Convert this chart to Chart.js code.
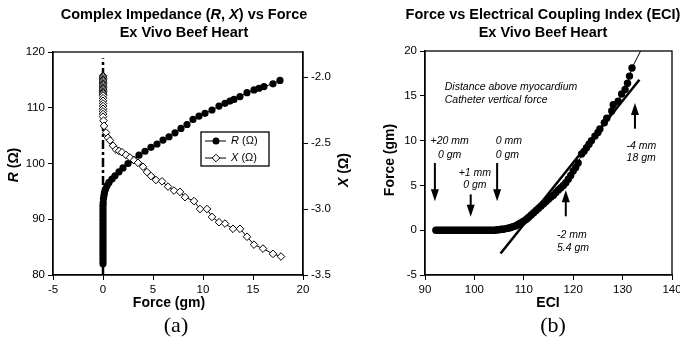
<!DOCTYPE html>
<html>
<head>
<meta charset="utf-8">
<script src="https://cdn.jsdelivr.net/npm/chart.js@4.4.0/dist/chart.umd.min.js"></script>
<style>
  html, body { margin: 0; padding: 0; background: #fff; }
  #wrap { position: relative; width: 680px; height: 341px; overflow: hidden; }
  #c1 { position: absolute; left: 0; top: 0; }
  #c2 { position: absolute; left: 355px; top: 0; }
</style>
</head>
<body>
<div id="wrap">
  <canvas id="c1" width="360" height="341" style="width:360px;height:341px"></canvas>
  <canvas id="c2" width="325" height="341" style="width:325px;height:341px"></canvas>
</div>
<script>
// ---- panel (a): impedance vs force ----
var rForce = [0, 0, 0, 0, 0, 0, 0, 0, 0, 0, 0, 0, 0, 0, 0, 0, 0, 0, 0, 0, 0, 0,
  0.02, 0.05, 0.1, 0.15, 0.25, 0.4, 0.6, 0.9, 1.2, 1.6, 2.0, 2.5, 3.0, 3.6, 4.2, 4.8, 5.4, 6.0, 6.6,
  7.2, 7.8, 8.4, 9.0, 9.6, 10.2, 10.9, 11.6, 12.2, 12.7, 13.1, 13.7, 14.4, 15.1, 15.6, 16.1, 17.0, 17.7]
var rOhm = [82, 82.5, 83, 83.5, 84, 84.5, 85, 85.5, 86, 86.5, 87, 87.5, 88, 88.5, 89, 89.5, 90, 90.5, 91, 91.5, 92, 92.5,
  93, 93.7, 94.3, 94.8, 95.4, 96, 96.6, 97.2, 97.8, 98.5, 99.2, 100, 100.7, 101.5, 102.2, 102.9, 103.5, 104.2, 104.8,
  105.5, 106.3, 107, 107.9, 108.5, 109, 109.6, 110.3, 110.8, 111.2, 111.5, 112, 112.7, 113.2, 113.5, 113.8, 114.3, 114.9]

var xForce = [0, 0, 0, 0, 0, 0, 0, 0, 0, 0, 0, 0, 0, 0, 0, 0, 0, 0, 0, 0, 0, 0, 0, 0,
  0.05, 0.1, 0.3, 0.5, 0.7, 1.0, 1.3, 1.6, 1.9, 2.3, 2.7, 3.1, 3.5, 4.0, 4.4, 4.8, 5.3, 5.9,
  6.5, 7.1, 7.7, 8.2, 9.1, 9.7, 10.4, 10.9, 11.6, 12.2, 13.0, 13.7, 14.4, 15.1, 16.0, 17.0, 17.8]
var xOhm = [-1.99, -2.0, -2.01, -2.02, -2.03, -2.04, -2.05, -2.06, -2.07, -2.08, -2.09, -2.1, -2.11, -2.12,
  -2.13, -2.14, -2.16, -2.18, -2.2, -2.22, -2.24, -2.26, -2.28, -2.3,
  -2.33, -2.37, -2.42, -2.46, -2.48, -2.52, -2.55, -2.56, -2.57, -2.59, -2.61, -2.63, -2.65, -2.68, -2.72, -2.75, -2.78, -2.79,
  -2.83, -2.86, -2.87, -2.91, -2.94, -3.0, -3.0, -3.06, -3.1, -3.11, -3.15, -3.15, -3.21, -3.27, -3.3, -3.34, -3.36]

var zeroForce = [0, 0]
var zeroOhm = [80, 118.9]

var forceTicksA = [-5, 0, 5, 10, 15, 20]
var rTicks = [80, 90, 100, 110, 120]
var xTicks = [-3.5, -3.0, -2.5, -2.0]

// ---- panel (b): force vs ECI ----
var eci = [92.2, 92.6, 93, 93.4, 93.8, 94.2, 94.6, 95, 95.4, 95.8,
  96.2, 96.6, 97, 97.4, 97.8, 98.2, 98.6, 99, 99.4, 99.8,
  100.2, 100.6, 101, 101.4, 101.8, 102.2, 102.6, 103, 103.4, 103.8,
  104.2, 104.6, 105, 105.4, 105.8, 106.2, 106.6, 107, 107.4, 107.8,
  108.2, 108.6, 109, 109.4, 109.8, 110.2, 110.6, 111, 111.5, 112,
  112.5, 113, 113.5, 114, 114.5, 115, 115.5, 116, 116.5, 117,
  117.5, 118, 118.5, 119, 119.5, 120, 120.5, 121, 121.7, 122.2,
  122.7, 123.2, 123.7, 124.4, 125, 125.4, 126.3, 126.8, 127.8, 128.1,
  129.1, 129.8, 130.5, 131, 131.4, 131.9]
var eciForce = [0, 0, 0, 0, 0, 0, 0, 0, 0, 0,
  0, 0, 0, 0, 0, 0, 0, 0, 0, 0,
  0, 0, 0, 0, 0, 0, 0, 0, 0, 0,
  0, 0.05, 0.05, 0.1, 0.1, 0.15, 0.2, 0.25, 0.3, 0.4,
  0.45, 0.55, 0.7, 0.8, 0.95, 1.1, 1.25, 1.45, 1.7, 1.95,
  2.2, 2.45, 2.7, 2.95, 3.2, 3.45, 3.7, 3.9, 4.2, 4.5,
  4.75, 5.0, 5.3, 5.7, 6.1, 6.6, 7.0, 7.5, 8.5, 8.8,
  9.2, 9.6, 10.0, 10.5, 10.9, 11.3, 12.0, 12.5, 13.3, 14.0,
  14.4, 15.2, 15.7, 16.4, 17.2, 18.1]

var fitEci = [105.3, 133.4]
var fitForce = [-2.6, 16.8]
var tailEci = [131.9, 134]
var tailForce = [18.1, 20.4]

var eciTicks = [90, 100, 110, 120, 130, 140]
var forceTicksB = [-5, 0, 5, 10, 15, 20]

// annotations, placed in data units
var noteText = ['Distance above myocardium', 'Catheter vertical force', '+20 mm', '0 gm', '+1 mm', '0 gm',
  '0 mm', '0 gm', '-2 mm', '5.4 gm', '-4 mm', '18 gm']
var noteEci = [94.0, 94.0, 95.0, 95.0, 100.1, 100.1, 104.3, 104.3, 116.7, 116.7, 130.8, 130.8]
var noteForce = [16.0, 14.5, 10.0, 8.4, 6.4, 5.0, 10.0, 8.4, -0.57, -2.0, 9.35, 8.0]
var noteAlign = ['left', 'left', 'center', 'center', 'center', 'center', 'left', 'left', 'left', 'left', 'left', 'left']
var arrowEci = [92, 99.25, 104.6, 118.5, 132.5]
var arrowFrom = [7.5, 4.0, 7.5, 1.55, 11.33]
var arrowTo = [3.24, 1.5, 3.24, 4.45, 14.2]

var FONT = '"Liberation Sans", Arial, sans-serif'

function pairs (xs, ys) {
  return xs.map(function (v, i) { return { x: v, y: ys[i] } })
}

// draw text made of parts [text, italic]
function richText (ctx, parts, x, y, size, weight, align) {
  var w = 0
  parts.forEach(function (p) {
    ctx.font = (p[1] ? 'italic ' : '') + weight + ' ' + size + 'px ' + FONT
    w += ctx.measureText(p[0]).width
  })
  var cx = align === 'center' ? x - w / 2 : x
  ctx.textAlign = 'left'
  ctx.textBaseline = 'middle'
  parts.forEach(function (p) {
    ctx.font = (p[1] ? 'italic ' : '') + weight + ' ' + size + 'px ' + FONT
    ctx.fillText(p[0], cx, y)
    cx += ctx.measureText(p[0]).width
  })
}

function vText (ctx, parts, x, y, size) {
  ctx.save()
  ctx.translate(x, y)
  ctx.rotate(-Math.PI / 2)
  richText(ctx, parts, 0, 0, size, 'bold', 'center')
  ctx.restore()
}

function setTicks (list) {
  return function (scale) {
    scale.ticks = list.map(function (v) { return { value: v } })
  }
}

function axis (extra) {
  var base = {
    type: 'linear',
    grid: { drawOnChartArea: false, drawTicks: true, tickLength: 5, color: '#000', lineWidth: 1 },
    border: { display: true, color: '#000', width: 1.3 },
    ticks: { color: '#000', font: { family: FONT, size: 11.5 }, autoSkip: false, maxRotation: 0, padding: 3 }
  }
  return Object.assign(base, extra)
}

var panelA = {
  id: 'panelA',
  afterDraw: function (chart) {
    var ctx = chart.ctx
    var ca = chart.chartArea
    ctx.save()
    ctx.fillStyle = '#000'
    ctx.strokeStyle = '#000'
    ctx.lineWidth = 1.3
    ctx.strokeRect(ca.left, ca.top, ca.right - ca.left, ca.bottom - ca.top)

    richText(ctx, [['Complex Impedance (', 0], ['R', 1], [', ', 0], ['X', 1], [') vs Force', 0]], 184, 15, 14.5, 'bold', 'center')
    richText(ctx, [['Ex Vivo Beef Heart', 0]], 184, 33, 14.5, 'bold', 'center')
    richText(ctx, [['Force (gm)', 0]], 169, 303, 14, 'bold', 'center')
    vText(ctx, [['R', 1], [' (\u03a9)', 0]], 14, 165, 14)
    vText(ctx, [['X', 1], [' (\u03a9)', 0]], 344, 170, 14)

    ctx.font = '22px "Liberation Serif", "DejaVu Serif", serif'
    ctx.textAlign = 'center'
    ctx.textBaseline = 'middle'
    ctx.fillText('(a)', 176, 326)

    // legend box
    var lx = ca.left + 148
    var ly = ca.top + 80
    ctx.lineWidth = 1.3
    ctx.strokeRect(lx, ly, 68, 34)
    ctx.lineWidth = 1
    var rows = [ly + 9, ly + 26]
    rows.forEach(function (yy) {
      ctx.beginPath(); ctx.moveTo(lx + 4, yy); ctx.lineTo(lx + 25, yy); ctx.stroke()
    })
    ctx.beginPath(); ctx.arc(lx + 15, rows[0], 3.5, 0, Math.PI * 2); ctx.fill()
    ctx.beginPath()
    ctx.moveTo(lx + 15, rows[1] - 3.8); ctx.lineTo(lx + 18.8, rows[1]); ctx.lineTo(lx + 15, rows[1] + 3.8); ctx.lineTo(lx + 11.2, rows[1]); ctx.closePath()
    ctx.fillStyle = '#fff'; ctx.fill(); ctx.stroke()
    ctx.fillStyle = '#000'
    richText(ctx, [['R', 1], [' (\u03a9)', 0]], lx + 30, rows[0], 11, 'normal', 'left')
    richText(ctx, [['X', 1], [' (\u03a9)', 0]], lx + 30, rows[1], 11, 'normal', 'left')
    ctx.restore()
  }
}

var panelB = {
  id: 'panelB',
  afterDraw: function (chart) {
    var ctx = chart.ctx
    var ca = chart.chartArea
    var sx = chart.scales.x
    var sy = chart.scales.y
    ctx.save()
    ctx.fillStyle = '#000'
    ctx.strokeStyle = '#000'
    ctx.lineWidth = 1.3
    ctx.strokeRect(ca.left, ca.top, ca.right - ca.left, ca.bottom - ca.top)

    richText(ctx, [['Force vs Electrical Coupling Index (ECI)', 0]], 188, 15, 14.5, 'bold', 'center')
    richText(ctx, [['Ex Vivo Beef Heart', 0]], 188, 33, 14.5, 'bold', 'center')
    richText(ctx, [['ECI', 0]], 193, 303, 14, 'bold', 'center')
    vText(ctx, [['Force (gm)', 0]], 35, 160, 14)

    ctx.font = '22px "Liberation Serif", "DejaVu Serif", serif'
    ctx.textAlign = 'center'
    ctx.textBaseline = 'middle'
    ctx.fillText('(b)', 198, 326)

    // notes
    ctx.font = 'italic 10.5px ' + FONT
    ctx.textBaseline = 'middle'
    noteText.forEach(function (t, i) {
      ctx.textAlign = noteAlign[i]
      ctx.fillText(t, sx.getPixelForValue(noteEci[i]), sy.getPixelForValue(noteForce[i]))
    })

    // arrows
    ctx.lineWidth = 2
    arrowEci.forEach(function (e, i) {
      var x = sx.getPixelForValue(e)
      var y1 = sy.getPixelForValue(arrowFrom[i])
      var y2 = sy.getPixelForValue(arrowTo[i])
      var dir = y2 > y1 ? 1 : -1
      ctx.beginPath(); ctx.moveTo(x, y1); ctx.lineTo(x, y2 - dir * 10); ctx.stroke()
      ctx.beginPath(); ctx.moveTo(x, y2); ctx.lineTo(x - 4, y2 - dir * 12); ctx.lineTo(x + 4, y2 - dir * 12); ctx.closePath(); ctx.fill()
    })
    ctx.restore()
  }
}

var chartA = new Chart(document.getElementById('c1'), {
  type: 'scatter',
  data: {
    datasets: [
      {
        label: 'X (\u03a9)', data: pairs(xForce, xOhm), yAxisID: 'y2', showLine: true,
        borderColor: '#000', borderWidth: 1, pointStyle: 'rectRot', pointRadius: 3.8,
        pointBackgroundColor: '#fff', pointBorderColor: '#000', pointBorderWidth: 1, order: 1
      },
      {
        label: 'R (\u03a9)', data: pairs(rForce, rOhm), yAxisID: 'y', showLine: true,
        borderColor: '#000', borderWidth: 1, pointStyle: 'circle', pointRadius: 3.6,
        pointBackgroundColor: '#000', pointBorderColor: '#000', pointBorderWidth: 0, order: 2
      },
      {
        label: 'zero', data: pairs(zeroForce, zeroOhm), yAxisID: 'y', showLine: true,
        borderColor: '#000', borderWidth: 2.5, borderDash: [9, 3, 3, 3], pointRadius: 0, order: 3
      }
    ]
  },
  options: {
    responsive: false,
    animation: false,
    events: [],
    layout: { padding: { top: 52, left: 0, right: 0, bottom: 0 } },
    plugins: { legend: { display: false }, tooltip: { enabled: false } },
    scales: {
      x: axis({
        min: -5, max: 20,
        afterBuildTicks: setTicks(forceTicksA),
        afterFit: function (s) { s.height = 66; s.paddingLeft = 0; s.paddingRight = 0 }
      }),
      y: axis({
        position: 'left', min: 80, max: 120,
        afterBuildTicks: setTicks(rTicks),
        afterFit: function (s) { s.width = 53 }
      }),
      y2: axis({
        position: 'right', min: -3.5, max: -1.81,
        afterBuildTicks: setTicks(xTicks),
        afterFit: function (s) { s.width = 57 }
      })
    }
  },
  plugins: [panelA]
})
// y2 tick labels with one decimal
chartA.options.scales.y2.ticks.callback = function (v) { return v.toFixed(1) }
chartA.update()

new Chart(document.getElementById('c2'), {
  type: 'scatter',
  data: {
    datasets: [
      {
        label: 'Force', data: pairs(eci, eciForce), showLine: true,
        borderColor: '#000', borderWidth: 1, pointStyle: 'circle', pointRadius: 3.7,
        pointBackgroundColor: '#000', pointBorderColor: '#000', pointBorderWidth: 0, order: 1
      },
      {
        label: 'fit', data: pairs(fitEci, fitForce), showLine: true,
        borderColor: '#000', borderWidth: 2.5, pointRadius: 0, order: 2
      },
      {
        label: 'tail', data: pairs(tailEci, tailForce), showLine: true,
        borderColor: '#000', borderWidth: 1, pointRadius: 0, order: 3
      }
    ]
  },
  options: {
    responsive: false,
    animation: false,
    events: [],
    layout: { padding: { top: 51, left: 0, right: 8, bottom: 0 } },
    plugins: { legend: { display: false }, tooltip: { enabled: false } },
    scales: {
      x: axis({
        min: 90, max: 140,
        afterBuildTicks: setTicks(eciTicks),
        afterFit: function (s) { s.height = 66; s.paddingLeft = 0; s.paddingRight = 0 }
      }),
      y: axis({
        position: 'left', min: -5, max: 20,
        afterBuildTicks: setTicks(forceTicksB),
        afterFit: function (s) { s.width = 70 }
      })
    }
  },
  plugins: [panelB]
})
</script>
</body>
</html>
